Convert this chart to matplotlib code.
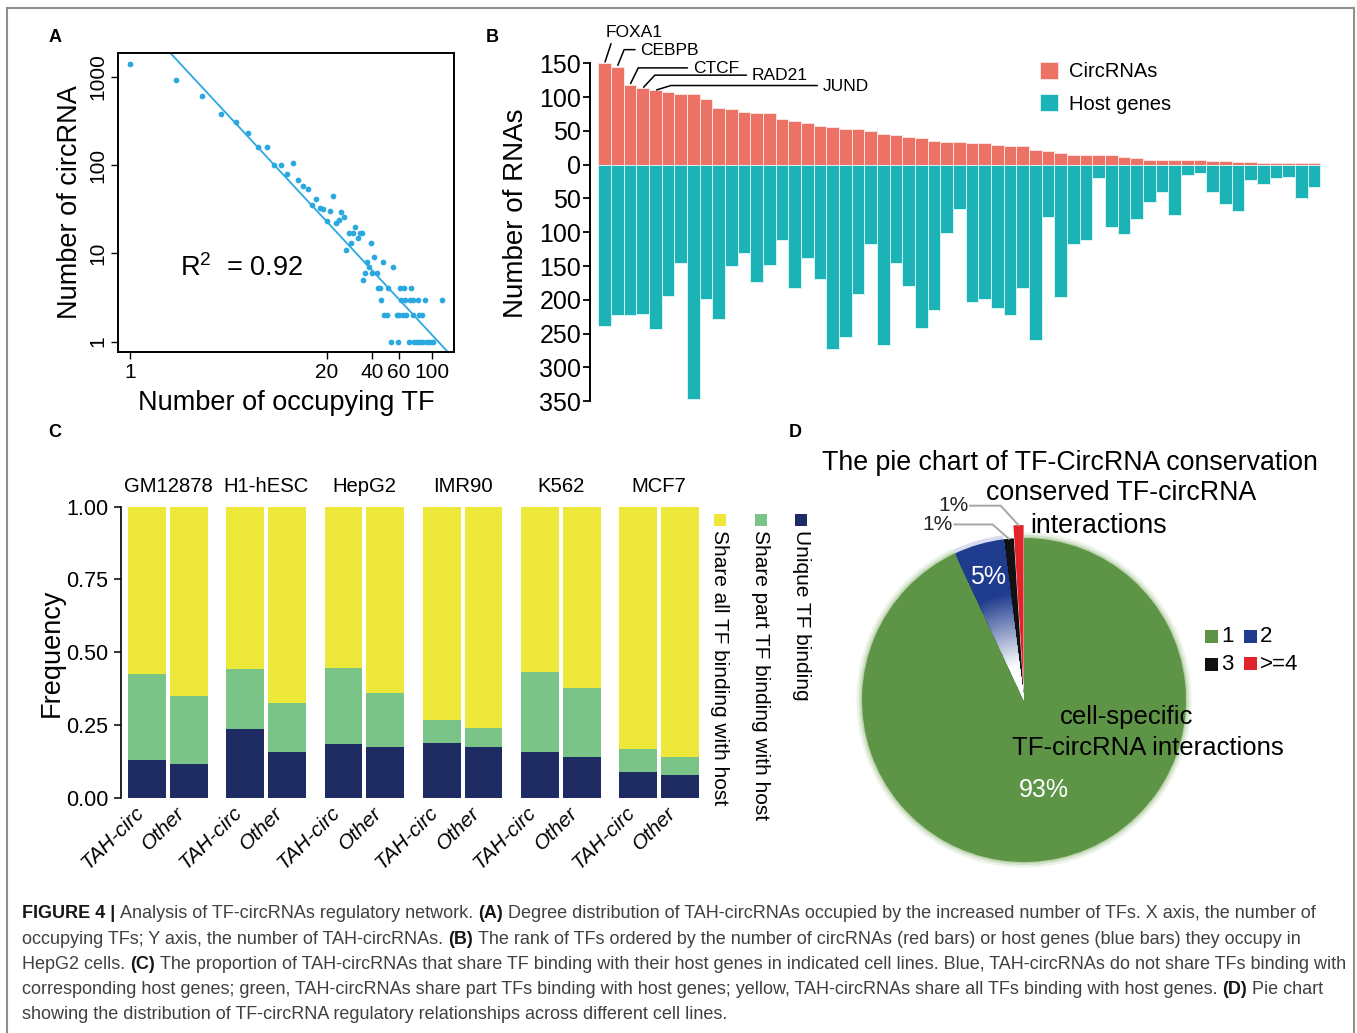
import numpy as np
import matplotlib
matplotlib.use("Agg")
import matplotlib.pyplot as plt
from matplotlib.patches import Rectangle, Wedge
from matplotlib.colors import to_rgb

plt.rcParams["font.family"] = ["Liberation Sans", "DejaVu Sans"]
plt.rcParams["mathtext.fontset"] = "custom"
plt.rcParams["mathtext.rm"] = "Liberation Sans"
plt.rcParams["mathtext.it"] = "Liberation Sans:italic"

W, H = 1357, 1033

# ── Panel A: degree distribution ─────────────────────────────────────────────
tf_count = [1, 2, 3, 4, 5, 6, 7, 8, 9, 10, 11, 12, 13, 14, 15, 16, 17, 18, 19,
            20, 21, 22, 23, 24, 25, 26, 27, 28, 29, 30, 31, 32, 33, 34, 35, 36,
            37, 38, 39, 40, 41, 43, 44, 45, 46, 47, 48, 50, 51, 53, 55, 58, 59,
            60, 61, 62, 64, 65, 66, 67, 70, 71, 72, 74, 75, 76, 79, 80, 81, 83,
            86, 87, 90, 92, 97, 101, 116]
circ_count = [1390, 925, 604, 375, 307, 230, 161, 160, 99, 100, 80, 106, 68,
              58, 53, 35, 41, 33, 32, 23, 30, 45, 22, 24, 29, 26, 11, 17, 13,
              17, 20, 15, 17, 17, 5, 6, 8, 7, 13, 6, 9, 6, 4, 4, 3, 8, 2, 2, 4,
              1, 7, 2, 1, 2, 4, 3, 2, 4, 3, 2, 1, 3, 4, 2, 3, 1, 1, 3, 2, 1, 2,
              1, 3, 1, 1, 1, 3]
fit_slope = -1.844
fit_intercept = 3.76
r_squared = "0.92"
a_xticks = [1, 20, 40, 60, 100]
a_yticks = [1, 10, 100, 1000]

# ── Panel B: TFs ranked by circRNAs / host genes (HepG2) ─────────────────────
circ_per_tf = [150, 145, 118, 113, 110, 108, 104, 104, 97, 84, 82, 78, 76, 76,
               67, 64, 61, 57, 56, 53, 53, 50, 46, 44, 41, 39, 35, 33, 33, 32,
               32, 29, 27, 27, 22, 20, 18, 15, 15, 15, 14, 12, 10, 7, 7, 7, 7,
               7, 6, 6, 4, 4, 3, 3, 3, 2, 2]
host_per_tf = [239, 223, 222, 221, 243, 195, 146, 347, 198, 228, 150, 131, 174,
               148, 112, 182, 138, 169, 272, 255, 191, 118, 267, 145, 180, 242,
               215, 101, 65, 203, 198, 212, 222, 183, 260, 77, 196, 118, 111,
               19, 92, 102, 80, 55, 41, 74, 16, 12, 41, 58, 68, 22, 28, 19, 18,
               50, 33]
top_tf_names = ["FOXA1", "CEBPB", "CTCF", "RAD21", "JUND"]
b_yticks = [-350, -300, -250, -200, -150, -100, -50, 0, 50, 100, 150]

# ── Panel C: share of TF binding with host genes ─────────────────────────────
cell_lines = ["GM12878", "H1-hESC", "HepG2", "IMR90", "K562", "MCF7"]
bar_groups = ["TAH-circ", "Other"]
unique_tah = [0.129, 0.235, 0.184, 0.189, 0.156, 0.090]
part_tah = [0.295, 0.208, 0.262, 0.077, 0.277, 0.076]
unique_other = [0.117, 0.156, 0.174, 0.174, 0.140, 0.079]
part_other = [0.232, 0.170, 0.185, 0.064, 0.237, 0.062]
c_legend = ["Share all TF binding with host", "Share part TF binding with host",
            "Unique TF binding"]
c_yticks = [0.0, 0.25, 0.5, 0.75, 1.0]

# ── Panel D: conservation pie ────────────────────────────────────────────────
pie_labels = ["1", "2", "3", ">=4"]
pie_pct = [93, 5, 1, 1]

# ── Caption ──────────────────────────────────────────────────────────────────
caption = [
    [("FIGURE 4 |", True), ("Analysis of TF-circRNAs regulatory network.", False),
     ("(A)", True), ("Degree distribution of TAH-circRNAs occupied by the increased "
                     "number of TFs. X axis, the number of", False)],
    [("occupying TFs; Y axis, the number of TAH-circRNAs.", False), ("(B)", True),
     ("The rank of TFs ordered by the number of circRNAs (red bars) or host genes "
      "(blue bars) they occupy in", False)],
    [("HepG2 cells.", False), ("(C)", True),
     ("The proportion of TAH-circRNAs that share TF binding with their host genes in "
      "indicated cell lines. Blue, TAH-circRNAs do not share TFs binding with", False)],
    [("corresponding host genes; green, TAH-circRNAs share part TFs binding with host "
      "genes; yellow, TAH-circRNAs share all TFs binding with host genes.", False),
     ("(D)", True), ("Pie chart", False)],
    [("showing the distribution of TF-circRNA regulatory relationships across "
      "different cell lines.", False)],
]

PT_BLUE = "#2AA8E0"
RED = "#EC7266"
TEAL = "#1CB3B6"
YELLOW = "#EDE83A"
GREEN_C = "#79C486"
NAVY_C = "#1F2B63"
PIE_COLORS = ["#5E9446", "#1F3C8E", "#111111", "#E1242A"]


def fx(px):
    return px / W


def fy(py):
    return 1 - py / H


def box(l, t, r, b):
    return [fx(l), fy(b), (r - l) / W, (b - t) / H]


fig = plt.figure(figsize=(W / 100, H / 100), dpi=100)
fig.patches.append(Rectangle((fx(7), -0.01), fx(1354) - fx(7), fy(8) + 0.01,
                             transform=fig.transFigure, fill=False,
                             ec="#8f8f8f", lw=1.5))

for lab, x, y in [("A", 55, 37), ("B", 492, 37), ("C", 55, 433), ("D", 795, 433)]:
    fig.text(fx(x), fy(y), lab, fontsize=13, fontweight="bold",
             ha="center", va="center")

# ── A ────────────────────────────────────────────────────────────────────────
axa = fig.add_axes(box(118, 53, 454, 352))
axa.set_xscale("log")
axa.set_yscale("log")
axa.scatter(tf_count, circ_count, s=17, color=PT_BLUE, linewidths=0, zorder=3)
xs = np.array([1.0, 200.0])
axa.plot(xs, 10 ** (fit_intercept + fit_slope * np.log10(xs)), color=PT_BLUE, lw=1.3)
axa.set_xlim(0.833, 139)
axa.set_ylim(0.764, 1854)
axa.minorticks_off()
axa.set_xticks(a_xticks)
axa.set_xticklabels([str(v) for v in a_xticks], fontsize=15)
axa.set_yticks(a_yticks)
axa.set_yticklabels([str(v) for v in a_yticks], fontsize=15, rotation=90, va="center")
axa.tick_params(length=5, width=1, pad=3)
for s in axa.spines.values():
    s.set_linewidth(1.4)
axa.set_xlabel("Number of occupying TF", fontsize=19.5)
axa.xaxis.set_label_coords(0.5, -0.171)
axa.xaxis.label.set_va("center")
axa.set_ylabel("Number of circRNA", fontsize=19.5)
axa.yaxis.set_label_coords(-0.143, 0.5)
axa.yaxis.label.set_va("center")
axa.text(0.185, 0.281, r"R$^2$  = " + r_squared, transform=axa.transAxes,
         fontsize=19.5, va="center", ha="left")

# ── B ────────────────────────────────────────────────────────────────────────
axb = fig.add_axes(box(590, 20, 1330, 410))
xb = np.arange(len(circ_per_tf))
axb.bar(xb, circ_per_tf, width=1, color=RED, edgecolor="#fbe3e0", linewidth=0.7,
        label="CircRNAs")
axb.bar(xb, -np.array(host_per_tf), width=1, color=TEAL, edgecolor="#d8f3f3",
        linewidth=0.7, label="Host genes")
axb.set_xlim(-1.152, 57.25)
axb.set_ylim(-362.9, 214)
for side in ["top", "right", "bottom"]:
    axb.spines[side].set_visible(False)
axb.spines["left"].set_bounds(-350, 150)
axb.spines["left"].set_linewidth(1.4)
axb.set_xticks([])
axb.set_yticks(b_yticks)
axb.set_yticklabels([str(abs(v)) for v in b_yticks], fontsize=18)
axb.tick_params(axis="y", length=5.3, width=1.3, pad=1)
axb.set_ylabel("Number of RNAs", fontsize=20)
axb.yaxis.set_label_coords(-0.1004, 0.505)
axb.yaxis.label.set_va("center")
axb.legend(loc="upper left", bbox_to_anchor=(fx(1040), fy(62)),
           bbox_transform=fig.transFigure, frameon=False, fontsize=14.5,
           handlelength=0.9, handleheight=0.9, handletextpad=0.55,
           labelspacing=0.65, borderpad=0, borderaxespad=0)

# label leader lines: (offset in points, angle of the slanted segment)
label_offsets = [(21.2, 22.5, None), (16.8, 11.7, 68), (45.4, 11.7, 64),
                 (78.8, 8.9, 47), (120.7, 2.9, 17)]
for i, name in enumerate(top_tf_names):
    dx, dy, ang = label_offsets[i]
    if ang is None:
        axb.annotate(name, xy=(xb[i], circ_per_tf[i]), xytext=(dx, dy),
                     textcoords="offset points", ha="center", va="center",
                     fontsize=12.5, annotation_clip=False,
                     arrowprops=dict(arrowstyle="-", relpos=(0.12, 0), shrinkA=1,
                                     shrinkB=1, color="black", lw=1.1))
    else:
        axb.annotate(name, xy=(xb[i], circ_per_tf[i]), xytext=(dx, dy),
                     textcoords="offset points", ha="left", va="center",
                     fontsize=12.5, annotation_clip=False,
                     arrowprops=dict(arrowstyle="-", relpos=(0, 0.55), shrinkA=2,
                                     shrinkB=1, color="black", lw=1.1,
                                     connectionstyle=f"angle,angleA=0,angleB={ang},rad=0"))

# ── C ────────────────────────────────────────────────────────────────────────
axc = fig.add_axes(box(121, 506.7, 703, 797.7))
group_pitch = 2.349
bar_w = 0.904
for g, cell in enumerate(cell_lines):
    for j, (u, p) in enumerate([(unique_tah[g], part_tah[g]),
                                (unique_other[g], part_other[g])]):
        x = g * group_pitch + j
        axc.bar(x, u, width=bar_w, color=NAVY_C, linewidth=0)
        axc.bar(x, p, width=bar_w, bottom=u, color=GREEN_C, linewidth=0)
        axc.bar(x, 1 - u - p, width=bar_w, bottom=u + p, color=YELLOW, linewidth=0)
    axc.annotate(cell, xy=(g * group_pitch + 0.5, 1), xytext=(0, 14.4),
                 textcoords="offset points", ha="center", va="center",
                 fontsize=14.6, annotation_clip=False)
tick_x = [g * group_pitch + j for g in range(len(cell_lines)) for j in range(2)]
axc.set_xticks(tick_x)
axc.set_xticklabels(bar_groups * len(cell_lines), rotation=45, ha="right",
                    va="top", fontsize=15, fontstyle="italic")
axc.tick_params(axis="x", length=0, pad=4)
axc.set_xlim(-0.624, 13.3)
axc.set_ylim(0, 1)
for side in ["top", "right", "bottom"]:
    axc.spines[side].set_visible(False)
axc.spines["left"].set_linewidth(1.2)
axc.set_yticks(c_yticks)
axc.set_yticklabels([f"{v:.2f}" for v in c_yticks], fontsize=15.5)
axc.tick_params(axis="y", length=5, width=1.1, pad=4)
axc.set_ylabel("Frequency", fontsize=19.5)
axc.yaxis.set_label_coords(-0.1186, 0.497)
axc.yaxis.label.set_va("center")

for k, (lab, col) in enumerate(zip(c_legend, [YELLOW, GREEN_C, NAVY_C])):
    xc = 720 + 40.5 * k
    fig.patches.append(Rectangle((fx(xc - 6), fy(526)), 12 / W, 12 / H,
                                 transform=fig.transFigure, color=col, lw=0))
    fig.text(fx(xc), fy(530), lab, rotation=-90, ha="center", va="top", fontsize=15)

# ── D ────────────────────────────────────────────────────────────────────────
axd = fig.add_axes(box(821.5, 497.5, 1226.5, 902.5))
wedges, _ = axd.pie(pie_pct, colors=PIE_COLORS, startangle=90, counterclock=False,
                    explode=[0, 0, 0, 0.08], wedgeprops=dict(linewidth=0))
axd.set_xlim(-1.25, 1.25)
axd.set_ylim(-1.25, 1.25)

# soft halo on the green slice
g = wedges[0]
for r, a in [(1.035, 0.18), (1.02, 0.3), (1.008, 0.5)]:
    axd.add_patch(Wedge((0, 0), r, g.theta1, g.theta2, color="#9cc087",
                        alpha=a, lw=0, zorder=0.5))

# radial gradient on the blue slice
b = wedges[1]
b.set_visible(False)
navy = np.array(to_rgb(PIE_COLORS[1]))
for r in np.linspace(1.0, 0.02, 60):
    t = np.clip((r - 0.22) / 0.45, 0, 1)
    col = (1 - t) * np.ones(3) + t * navy
    axd.add_patch(Wedge((0, 0), r, b.theta1, b.theta2, color=col, lw=0, zorder=1.2))
axd.add_patch(Wedge((0, 0), 1.025, b.theta1, b.theta2, color="#8fa0cf", alpha=0.35,
                    lw=0, zorder=0.6))


def mid_point(w, r):
    ang = np.deg2rad((w.theta1 + w.theta2) / 2)
    cx, cy = w.center
    return cx + r * np.cos(ang), cy + r * np.sin(ang)


x5, y5 = mid_point(b, 0.79)
axd.text(x5, y5, f"{pie_pct[1]}%", color="white", fontsize=18, ha="center", va="center",
         zorder=3)
x93, y93 = mid_point(g, 0.57)
axd.text(x93, y93, f"{pie_pct[0]}%", color="white", fontsize=18, ha="center",
         va="center", zorder=3)

# leader lines for the two 1% slices
for w, pct, elbow, tx in [(wedges[3], pie_pct[3], (-0.11, 0.12), -0.19),
                          (wedges[2], pie_pct[2], (-0.10, 0.088), -0.235)]:
    px, py = mid_point(w, 1.0)
    ex, ey = px + elbow[0], py + elbow[1]
    axd.plot([ex + tx, ex, px], [ey, ey, py], color="#a6a6a6", lw=1.4,
             clip_on=False, zorder=2)
    axd.text(ex + tx - 0.01, ey, f"{pct}%", fontsize=15, ha="right", va="center",
             color="#222222")

fig.text(fx(1070), fy(463), "The pie chart of TF-CircRNA conservation", fontsize=19.3,
         ha="center", va="center")
fig.text(fx(1121), fy(493), "conserved TF-circRNA", fontsize=19.3, ha="center", va="center")
fig.text(fx(1099), fy(526), "interactions", fontsize=19.3, ha="center", va="center")
fig.text(fx(1127), fy(717), "cell-specific", fontsize=18.5, ha="center", va="center")
fig.text(fx(1148), fy(748), "TF-circRNA interactions", fontsize=18.5, ha="center",
         va="center")

leg_pos = [(1205, 636), (1244, 636), (1205, 664), (1244, 663)]
for (lx, ly), lab, col in zip(leg_pos, pie_labels, PIE_COLORS):
    fig.patches.append(Rectangle((fx(lx), fy(ly + 6.5)), 12.5 / W, 13 / H,
                                 transform=fig.transFigure, color=col, lw=0))
    fig.text(fx(lx + 16), fy(ly + 1), lab, fontsize=16, ha="left", va="center")

# ── caption ──────────────────────────────────────────────────────────────────
cap = fig.add_axes([0, 0, 1, 1])
cap.axis("off")
cap.set_zorder(-1)
CAP_FS = 13
space_pt = 0.278 * CAP_FS
for li, line in enumerate(caption):
    y = 914 + 25.2 * li
    prev = None
    for txt, bold in line:
        kw = dict(fontsize=CAP_FS, fontweight="bold" if bold else "normal",
                  color="#161616" if bold else "#404040", ha="left", va="center")
        if prev is None:
            prev = cap.text(fx(22), fy(y), txt, transform=fig.transFigure, **kw)
        else:
            prev = cap.annotate(txt, xy=(1, 0.5), xycoords=prev,
                                xytext=(space_pt, 0), textcoords="offset points", **kw)

fig.savefig("out.png", dpi=100, facecolor="white")
